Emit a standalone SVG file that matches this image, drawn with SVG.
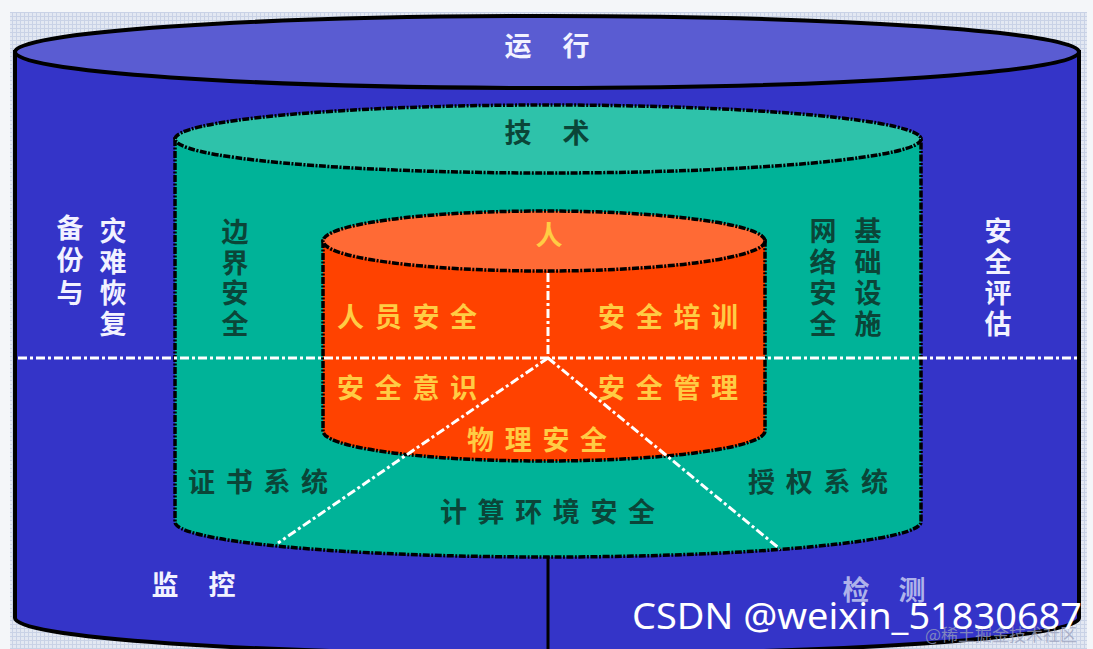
<svg xmlns="http://www.w3.org/2000/svg" width="1093" height="649" viewBox="0 0 1093 649">
<defs>
<pattern id="grid" width="4" height="4" patternUnits="userSpaceOnUse">
<rect width="4" height="4" fill="#e3e8f2"/>
<path d="M0,0.5H4M0.5,0V4" stroke="#c9d2e6" stroke-width="1"/>
</pattern>
<style>
.cjk{font-family:"Noto Sans CJK SC","Noto Sans",sans-serif;font-size:27px;font-weight:700;}
.w{fill:#f2f2ff;}
.y{fill:#ffcc44;}
.d{fill:#0b4538;}
.lav{fill:#aeb2ea;}
.dash{stroke:#000;stroke-width:3.5;stroke-dasharray:7 1.5 2 1.5;}
.solid{stroke:#000;stroke-width:4;}
.wl{fill:none;stroke:#fff;stroke-width:3;stroke-dasharray:9 3 3 3;}
</style>
</defs>
<rect width="1093" height="649" fill="#f4f6f9"/>
<rect x="10" y="12" width="1077" height="637" fill="url(#grid)"/>

<g id="outer">
<path d="M15,52 L15,618 A532,36 0 0 0 1079,618 L1079,52 Z" fill="#3434c8" class="solid"/>
<ellipse cx="547" cy="52" rx="532" ry="36" fill="#5a5cd2" class="solid"/>
</g>

<g id="tech">
<path d="M175,139 L175,522 A373,35 0 0 0 921,522 L921,139 Z" fill="#00b398" class="dash"/>
<ellipse cx="548" cy="139" rx="373" ry="34" fill="#2ec2aa" class="dash"/>
</g>

<g id="people">
<path d="M323,241 L323,431 A221,30 0 0 0 765,431 L765,241 Z" fill="#ff4200" class="dash"/>
<ellipse cx="544" cy="241" rx="221" ry="30" fill="#ff6a35" class="dash"/>
</g>

<g id="connectors">
<line x1="18" y1="358" x2="1077" y2="358" class="wl"/>
<line x1="548" y1="273" x2="548" y2="358" class="wl"/>
<line x1="548" y1="358" x2="278" y2="543" class="wl"/>
<line x1="548" y1="358" x2="780" y2="549" class="wl"/>
<line x1="548" y1="556" x2="548" y2="649" stroke="#000" stroke-width="3"/>
</g>

<g id="labels-outer" class="cjk">
<text class="w" x="518" y="56" text-anchor="middle">运</text>
<text class="w" x="576" y="56" text-anchor="middle">行</text>
<text class="w" text-anchor="middle"><tspan x="70" y="238">备</tspan><tspan x="70" y="270">份</tspan><tspan x="70" y="303">与</tspan></text>
<text class="w" text-anchor="middle"><tspan x="113" y="241">灾</tspan><tspan x="113" y="272">难</tspan><tspan x="113" y="303">恢</tspan><tspan x="113" y="334">复</tspan></text>
<text class="w" text-anchor="middle"><tspan x="998" y="241">安</tspan><tspan x="998" y="272">全</tspan><tspan x="998" y="303">评</tspan><tspan x="998" y="334">估</tspan></text>
<text class="w" x="165" y="595" text-anchor="middle">监</text>
<text class="w" x="222" y="595" text-anchor="middle">控</text>
<text class="lav" x="856" y="600" text-anchor="middle">检</text>
<text class="lav" x="912" y="600" text-anchor="middle">测</text>
</g>

<g id="labels-tech" class="cjk">
<text class="d" x="518" y="143" text-anchor="middle">技</text>
<text class="d" x="576" y="143" text-anchor="middle">术</text>
<text class="d" text-anchor="middle"><tspan x="235" y="242">边</tspan><tspan x="235" y="273">界</tspan><tspan x="235" y="303">安</tspan><tspan x="235" y="334">全</tspan></text>
<text class="d" text-anchor="middle"><tspan x="823" y="241">网</tspan><tspan x="823" y="272">络</tspan><tspan x="823" y="303">安</tspan><tspan x="823" y="334">全</tspan></text>
<text class="d" text-anchor="middle"><tspan x="868" y="241">基</tspan><tspan x="868" y="272">础</tspan><tspan x="868" y="303">设</tspan><tspan x="868" y="334">施</tspan></text>
<text class="d" x="188" y="492" letter-spacing="10.7">证书系统</text>
<text class="d" x="748" y="492" letter-spacing="10.7">授权系统</text>
<text class="d" x="440" y="522" letter-spacing="10.6">计算环境安全</text>
</g>

<g id="labels-people" class="cjk">
<text class="y" x="549" y="245" text-anchor="middle">人</text>
<text class="y" x="337" y="327" letter-spacing="10.7">人员安全</text>
<text class="y" x="598" y="327" letter-spacing="10.7">安全培训</text>
<text class="y" x="337" y="398" letter-spacing="10.7">安全意识</text>
<text class="y" x="598" y="398" letter-spacing="10.7">安全管理</text>
<text class="y" x="467" y="450" letter-spacing="10.7">物理安全</text>
</g>

<g id="watermark">
<text x="925" y="641" font-family="Noto Sans CJK SC,sans-serif" font-size="17" fill="#9aa0bc" fill-opacity="0.75">@稀土掘金技术社区</text>
<text x="632" y="629" font-family="Noto Sans,sans-serif" font-size="36" fill="#ffffff" textLength="450" lengthAdjust="spacingAndGlyphs">CSDN @weixin_51830687</text>
</g>
</svg>
